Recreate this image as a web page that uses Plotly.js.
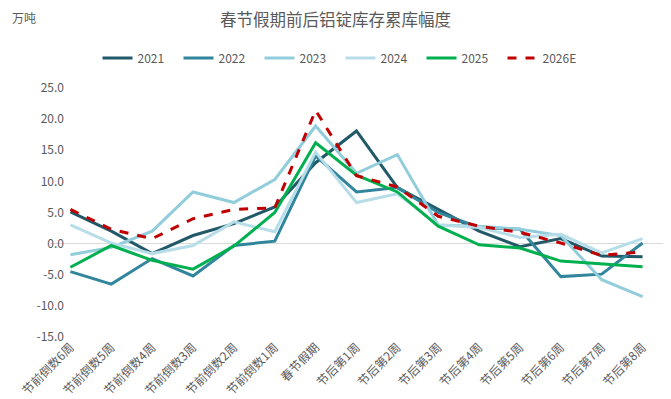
<!DOCTYPE html>
<html>
<head>
<meta charset="utf-8">
<script src="https://cdn.plot.ly/plotly-3.0.1.min.js"></script>
<style>html,body{margin:0;padding:0;background:#fff;}#chart{width:671px;height:399px;}</style>
</head>
<body>
<div id="chart"></div>
<script>
const categories = ['节前倒数6周','节前倒数5周','节前倒数4周','节前倒数3周','节前倒数2周','节前倒数1周','春节假期','节后第1周','节后第2周','节后第3周','节后第4周','节后第5周','节后第6周','节后第7周','节后第8周'];
const seriesNames = ['2021','2022','2023','2024','2025','2026E'];
const v2021 = [5.1, 2.0, -1.6, 1.3, 3.2, 5.9, 13.0, 18.1, 9.0, 5.5, 2.0, -0.5, 0.8, -2.0, -2.1];
const v2022 = [-4.5, -6.5, -2.4, -5.2, -0.3, 0.4, 14.1, 8.3, 9.0, 5.0, 2.6, 2.3, -5.3, -4.9, 0.1];
const v2023 = [-1.8, -0.6, 2.0, 8.3, 6.6, 10.3, 18.9, 11.3, 14.3, 3.0, 2.8, 2.3, 1.3, -5.8, -8.5];
const v2024 = [3.0, 0.1, -1.6, -0.3, 3.5, 1.9, 14.7, 6.6, 8.0, 3.0, 2.6, 1.0, 1.5, -1.5, 0.8];
const v2025 = [-3.8, -0.3, -2.7, -4.1, -0.4, 5.0, 16.2, 11.0, 8.3, 2.8, -0.2, -0.7, -2.8, -3.3, -3.7];
const v2026E = [5.5, 2.3, 0.8, 4.0, 5.5, 5.75, 21.4, 10.9, 9.1, 4.4, 2.8, 1.8, 0.1, -1.9, -1.3];
const yTicks = [-15, -10, -5, 0, 5, 10, 15, 20, 25];

const values = [v2021, v2022, v2023, v2024, v2025, v2026E];
const colors = ['#215968', '#31859C', '#92CDDC', '#B7DEE8', '#00B050', '#C00000'];
const font = '"Noto Sans CJK SC", "Noto Sans", sans-serif';

const traces = values.map((v, i) => ({
  type: 'scatter', mode: 'lines', name: seriesNames[i],
  x: categories, y: v,
  line: {color: colors[i], width: 3, dash: i === 5 ? 'dash' : 'solid'}
}));

const layout = {
  width: 671, height: 399,
  margin: {l: 50, r: 8, t: 88, b: 62, autoexpand: false},
  paper_bgcolor: '#fff', plot_bgcolor: '#fff',
  font: {family: font, color: '#595959', size: 12},
  title: {text: '春节假期前后铝锭库存累库幅度', x: 0.5, xanchor: 'center', y: 0.95, yanchor: 'middle',
          font: {family: font, size: 16.5, color: '#595959'}},
  showlegend: true,
  legend: {orientation: 'h', x: 0.0775, xanchor: 'left', y: 1.12, yanchor: 'middle',
           entrywidth: 36, entrywidthmode: 'pixels', itemwidth: 30,
           font: {family: font, size: 12, color: '#595959'}, bgcolor: 'rgba(0,0,0,0)'},
  xaxis: {type: 'category', range: [-0.5, 14.5], showgrid: false, zeroline: false, showline: false, ticks: '',
          automargin: false, tickangle: -45, tickfont: {family: font, size: 12, color: '#595959'}},
  yaxis: {range: [-15, 25], tickvals: yTicks, ticktext: yTicks.map(t => t.toFixed(1)), automargin: false,
          showgrid: false, zeroline: true, zerolinecolor: '#D9D9D9', zerolinewidth: 1,
          showline: false, ticks: '', ticklabelstandoff: -15, tickfont: {family: font, size: 12, color: '#595959'}},
  annotations: [{text: '万吨', xref: 'paper', yref: 'paper', x: -0.065, y: 1.285, xanchor: 'left', yanchor: 'middle',
                 showarrow: false, font: {family: font, size: 12, color: '#595959'}}]
};

Plotly.newPlot('chart', traces, layout, {displayModeBar: false, staticPlot: true});
</script>
</body>
</html>
